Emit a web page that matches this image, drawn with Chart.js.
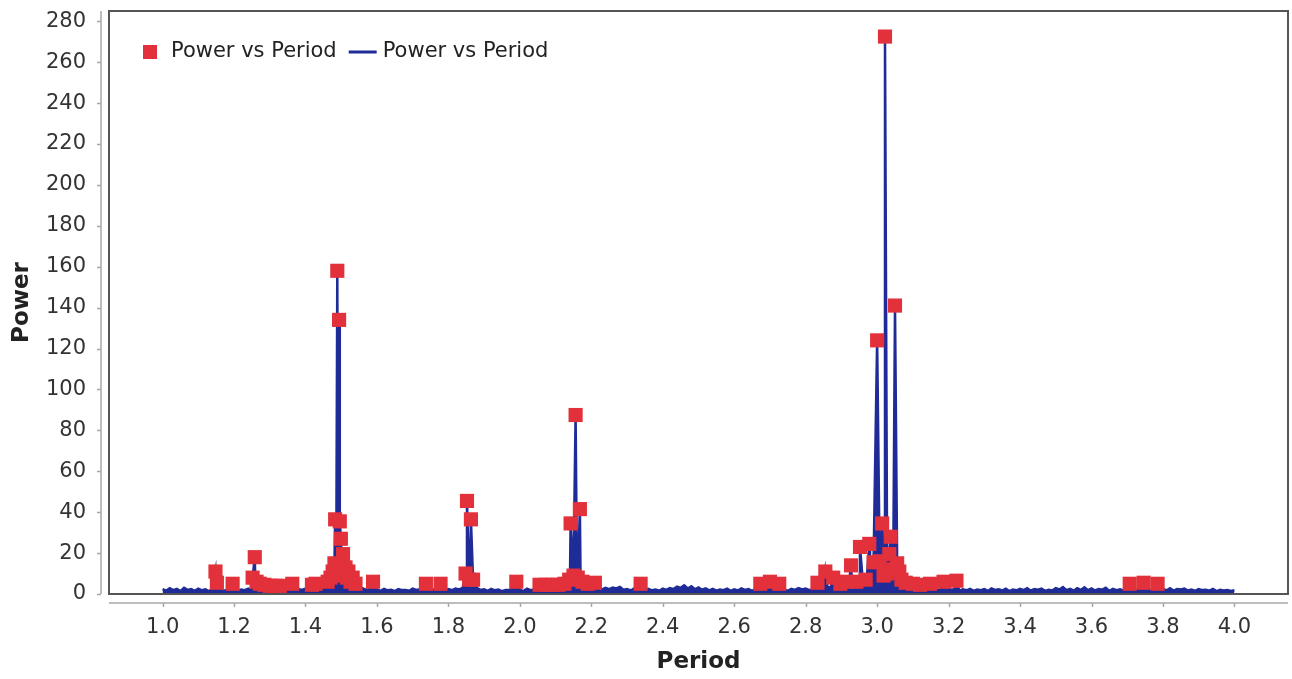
<!DOCTYPE html>
<html>
<head>
<meta charset="utf-8">
<script src="https://cdn.jsdelivr.net/npm/chart.js@4.4.0/dist/chart.umd.min.js"></script>
<style>
  html, body { margin: 0; padding: 0; background: #fff; }
  #myChart { display: block; }
</style>
</head>
<body>
<canvas id="myChart" width="1292" height="679"></canvas>
<script>
// red squares (the strong points of the periodogram)
const markerPeriods = [
  1.148, 1.152, 1.196, 1.252, 1.258, 1.263, 1.272, 1.285, 1.300, 1.315, 1.328, 1.363,
  1.418, 1.428, 1.462, 1.470, 1.476, 1.481, 1.483, 1.486, 1.489, 1.491, 1.494, 1.496,
  1.499, 1.502, 1.505, 1.508, 1.512, 1.516, 1.520, 1.526, 1.532, 1.540, 1.589, 1.737,
  1.778, 1.848, 1.852, 1.858, 1.863, 1.869, 1.990, 2.055, 2.072, 2.090, 2.108, 2.125,
  2.138, 2.142, 2.150, 2.156, 2.162, 2.168, 2.175, 2.190, 2.210, 2.338, 2.673, 2.700,
  2.726, 2.833, 2.855, 2.877, 2.897, 2.915, 2.927, 2.942, 2.952, 2.968, 2.978, 2.990,
  3.000, 3.007, 3.014, 3.018, 3.022, 3.028, 3.034, 3.038, 3.045, 3.050, 3.056, 3.062,
  3.068, 3.080, 3.100, 3.120, 3.148, 3.186, 3.222, 3.707, 3.746, 3.785
];
const markerPowers = [
  11, 5.5, 5, 8, 18, 6, 5, 4.5, 4, 4, 4, 5,
  4.5, 5, 6, 8, 11, 15, 36.5, 9, 158, 12, 134, 35.5,
  27, 14, 19.5, 10, 13, 8, 11, 6, 8, 5, 6, 5,
  5, 10, 45.5, 7, 36.5, 7, 6, 4.5, 4.5, 4.5, 4.5, 5,
  7, 34.5, 9, 87.5, 8, 41.5, 6, 5, 5.5, 5, 5, 6,
  5, 5.5, 11, 8, 5, 6, 14, 6, 23, 7, 24.5, 15.5,
  124, 16, 34.5, 9, 272.5, 10, 19.5, 28, 12, 141, 15, 11,
  7, 5.5, 5, 4.5, 5, 6, 6.5, 5, 5.5, 5
];

// noise floor, one value every 0.01 from 1.00 to 4.00
const floorStart = 1.0;
const floorStep = 0.01;
const floorPowers = [
  2.4, 1.6, 2.8, 1.9, 2.5, 1.4, 3.0, 2.0, 2.4, 1.5,
  2.6, 1.8, 2.3, 1.3, 2.7, 2.0, 2.2, 1.5, 2.1, 1.7,
  2.4, 1.4, 2.2, 1.9, 2.6, 1.6, 2.3, 2.1, 2.8, 1.8,
  2.5, 1.5, 2.2, 1.7, 2.7, 1.9, 2.3, 1.4, 2.4, 2.0,
  2.6, 1.8, 2.4, 2.2, 2.9, 2.5, 3.4, 3.0, 4.0, 3.4,
  6.5, 4.2, 5.0, 3.1, 3.6, 2.6, 2.8, 2.0, 2.4, 1.7,
  2.2, 1.5, 2.5, 1.8, 2.1, 1.4, 2.4, 1.9, 2.0, 1.6,
  2.6, 2.0, 2.3, 1.5, 2.8, 1.8, 2.2, 2.1, 2.5, 1.7,
  2.4, 1.9, 2.7, 2.2, 3.0, 3.0, 4.5, 2.6, 2.9, 2.0,
  2.3, 1.5, 2.5, 1.8, 2.2, 1.4, 2.0, 2.0, 2.4, 1.6,
  2.1, 1.4, 2.6, 1.9, 2.3, 1.7, 2.5, 1.5, 2.2, 1.9,
  2.4, 1.8, 2.8, 2.3, 3.2, 6.0, 3.6, 5.0, 2.6, 1.9,
  2.3, 1.6, 2.6, 2.2, 3.0, 2.4, 3.2, 2.7, 3.5, 2.1,
  2.4, 1.7, 2.7, 1.9, 2.3, 1.5, 2.5, 1.8, 2.2, 1.6,
  2.6, 2.0, 2.9, 2.4, 3.6, 3.0, 4.2, 2.7, 3.8, 2.3,
  3.2, 2.1, 2.8, 1.8, 2.5, 1.6, 2.2, 1.9, 2.6, 1.5,
  2.3, 1.7, 2.7, 2.0, 2.4, 1.5, 2.5, 2.1, 2.8, 1.8,
  2.4, 1.6, 2.6, 1.9, 2.2, 1.5, 2.5, 2.0, 2.9, 2.2,
  2.7, 1.9, 2.4, 1.7, 3.3, 2.3, 3.8, 2.9, 3.1, 2.5,
  3.6, 3.0, 4.1, 3.4, 4.8, 4.0, 6.0, 4.8, 6.5, 5.6,
  10, 12, 15, 14, 12, 9, 6.5, 4.5, 5.5, 3.6,
  3.8, 2.6, 3.4, 2.3, 3.0, 2.0, 2.7, 1.9, 2.5, 1.7,
  2.6, 2.0, 2.9, 1.6, 2.3, 1.8, 2.5, 1.5, 2.2, 1.9,
  2.4, 1.5, 2.7, 2.0, 2.3, 1.7, 2.6, 1.4, 2.2, 1.8,
  2.5, 1.9, 2.8, 1.6, 2.4, 2.1, 2.6, 1.5, 2.1, 1.7,
  2.9, 2.2, 3.4, 1.9, 2.5, 1.6, 2.8, 2.0, 3.3, 1.8,
  2.7, 1.7, 2.4, 2.1, 3.0, 1.5, 2.5, 1.9, 2.3, 1.6,
  2.6, 2.0, 2.4, 1.7, 2.7, 1.9, 2.3, 1.5, 2.9, 2.1,
  2.5, 1.8, 2.8, 1.6, 2.4, 2.2, 2.6, 1.7, 2.2, 1.5,
  2.4, 1.9, 2.1, 1.6, 2.5, 1.4, 2.0, 1.7, 1.9, 1.5,
  1.8
];

const xTickValues = [1.0, 1.2, 1.4, 1.6, 1.8, 2.0, 2.2, 2.4, 2.6, 2.8, 3.0, 3.2, 3.4, 3.6, 3.8, 4.0];
const yTickValues = [0, 20, 40, 60, 80, 100, 120, 140, 160, 180, 200, 220, 240, 260, 280];

const seriesName = 'Power vs Period';
const red = '#e2313b';
const blue = '#1f2b97';
const fontFamily = '"DejaVu Sans", Verdana, sans-serif';

// marker points
const markerPoints = markerPeriods.map((p, i) => ({ x: p, y: markerPowers[i] }));

// line = noise floor + marker points, sorted by period
const linePoints = [];
floorPowers.forEach((v, i) => {
  const p = floorStart + i * floorStep;
  if (!markerPeriods.some(m => Math.abs(m - p) < 0.0015)) linePoints.push({ x: p, y: v });
});
markerPoints.forEach(pt => linePoints.push({ x: pt.x, y: pt.y }));
linePoints.sort((a, b) => a.x - b.x);

// plot frame, offset axes and the legend inside the plot
const framePlugin = {
  id: 'frame',
  afterDraw(chart) {
    const { ctx, chartArea: a, scales } = chart;
    ctx.save();
    ctx.strokeStyle = '#555';
    ctx.lineWidth = 2;
    ctx.strokeRect(a.left, a.top, a.right - a.left, a.bottom - a.top);

    ctx.strokeStyle = '#a8a8a8';
    ctx.lineWidth = 1.5;
    ctx.beginPath();
    const axisX = a.left - 8;
    ctx.moveTo(axisX, a.top);
    ctx.lineTo(axisX, a.bottom);
    yTickValues.forEach(v => {
      const y = Math.round(scales.y.getPixelForValue(v)) + 0.5;
      ctx.moveTo(axisX - 4, y);
      ctx.lineTo(axisX, y);
    });
    const axisY = a.bottom + 9;
    ctx.moveTo(a.left, axisY);
    ctx.lineTo(a.right, axisY);
    xTickValues.forEach(v => {
      const x = Math.round(scales.x.getPixelForValue(v)) + 0.5;
      ctx.moveTo(x, axisY);
      ctx.lineTo(x, axisY + 4);
    });
    ctx.stroke();

    // legend
    const ly = 52;
    ctx.font = '21px ' + fontFamily;
    ctx.textBaseline = 'middle';
    ctx.fillStyle = red;
    ctx.fillRect(143, ly - 7, 14, 14);
    ctx.fillStyle = '#222';
    ctx.fillText(chart.data.datasets[0].label, 171, ly);
    let lx = 171 + ctx.measureText(chart.data.datasets[0].label).width + 12;
    ctx.strokeStyle = blue;
    ctx.lineWidth = 3;
    ctx.beginPath();
    ctx.moveTo(lx, ly);
    ctx.lineTo(lx + 28, ly);
    ctx.stroke();
    ctx.fillText(chart.data.datasets[1].label, lx + 34, ly);
    ctx.restore();
  }
};

const ctx = document.getElementById('myChart');
new Chart(ctx, {
  type: 'scatter',
  data: {
    datasets: [
      {
        label: seriesName,
        data: markerPoints,
        showLine: false,
        pointStyle: 'rect',
        pointRadius: 10,
        pointHoverRadius: 10,
        backgroundColor: red,
        borderColor: red,
        borderWidth: 0,
        order: 0
      },
      {
        label: seriesName,
        data: linePoints,
        showLine: true,
        fill: 'origin',
        pointRadius: 0,
        borderColor: blue,
        backgroundColor: blue,
        borderWidth: 2.5,
        tension: 0,
        order: 1
      }
    ]
  },
  options: {
    responsive: false,
    animation: false,
    devicePixelRatio: 1,
    layout: { autoPadding: false, padding: { top: 11, right: 4, left: 0, bottom: 0 } },
    plugins: {
      legend: { display: false },
      tooltip: { enabled: false }
    },
    scales: {
      x: {
        type: 'linear',
        min: 0.85,
        max: 4.15,
        afterBuildTicks: scale => { scale.ticks = xTickValues.map(v => ({ value: v })); },
        afterFit: scale => {
          scale.height = 85;
          scale.paddingLeft = 0;
          scale.paddingRight = 0;
        },
        grid: { display: false, drawTicks: false },
        border: { display: false },
        ticks: {
          autoSkip: false,
          maxRotation: 0,
          padding: 21,
          color: '#333',
          font: { family: fontFamily, size: 21 },
          callback: v => Number(v).toFixed(1)
        },
        title: {
          display: true,
          text: 'Period',
          color: '#222',
          font: { family: fontFamily, size: 23, weight: 'bold' },
          padding: { top: 0, bottom: 3 }
        }
      },
      y: {
        type: 'linear',
        min: 0,
        max: 285,
        afterBuildTicks: scale => { scale.ticks = yTickValues.map(v => ({ value: v })); },
        afterFit: scale => {
          scale.width = 109;
          scale.paddingTop = 0;
          scale.paddingBottom = 0;
        },
        grid: { display: false, drawTicks: false },
        border: { display: false },
        ticks: {
          autoSkip: false,
          padding: 23,
          color: '#333',
          font: { family: fontFamily, size: 21 },
          callback: v => String(v)
        },
        title: {
          display: true,
          text: 'Power',
          color: '#222',
          font: { family: fontFamily, size: 23, weight: 'bold' },
          padding: { top: 8, bottom: 0 }
        }
      }
    }
  },
  plugins: [framePlugin]
});
</script>
</body>
</html>
